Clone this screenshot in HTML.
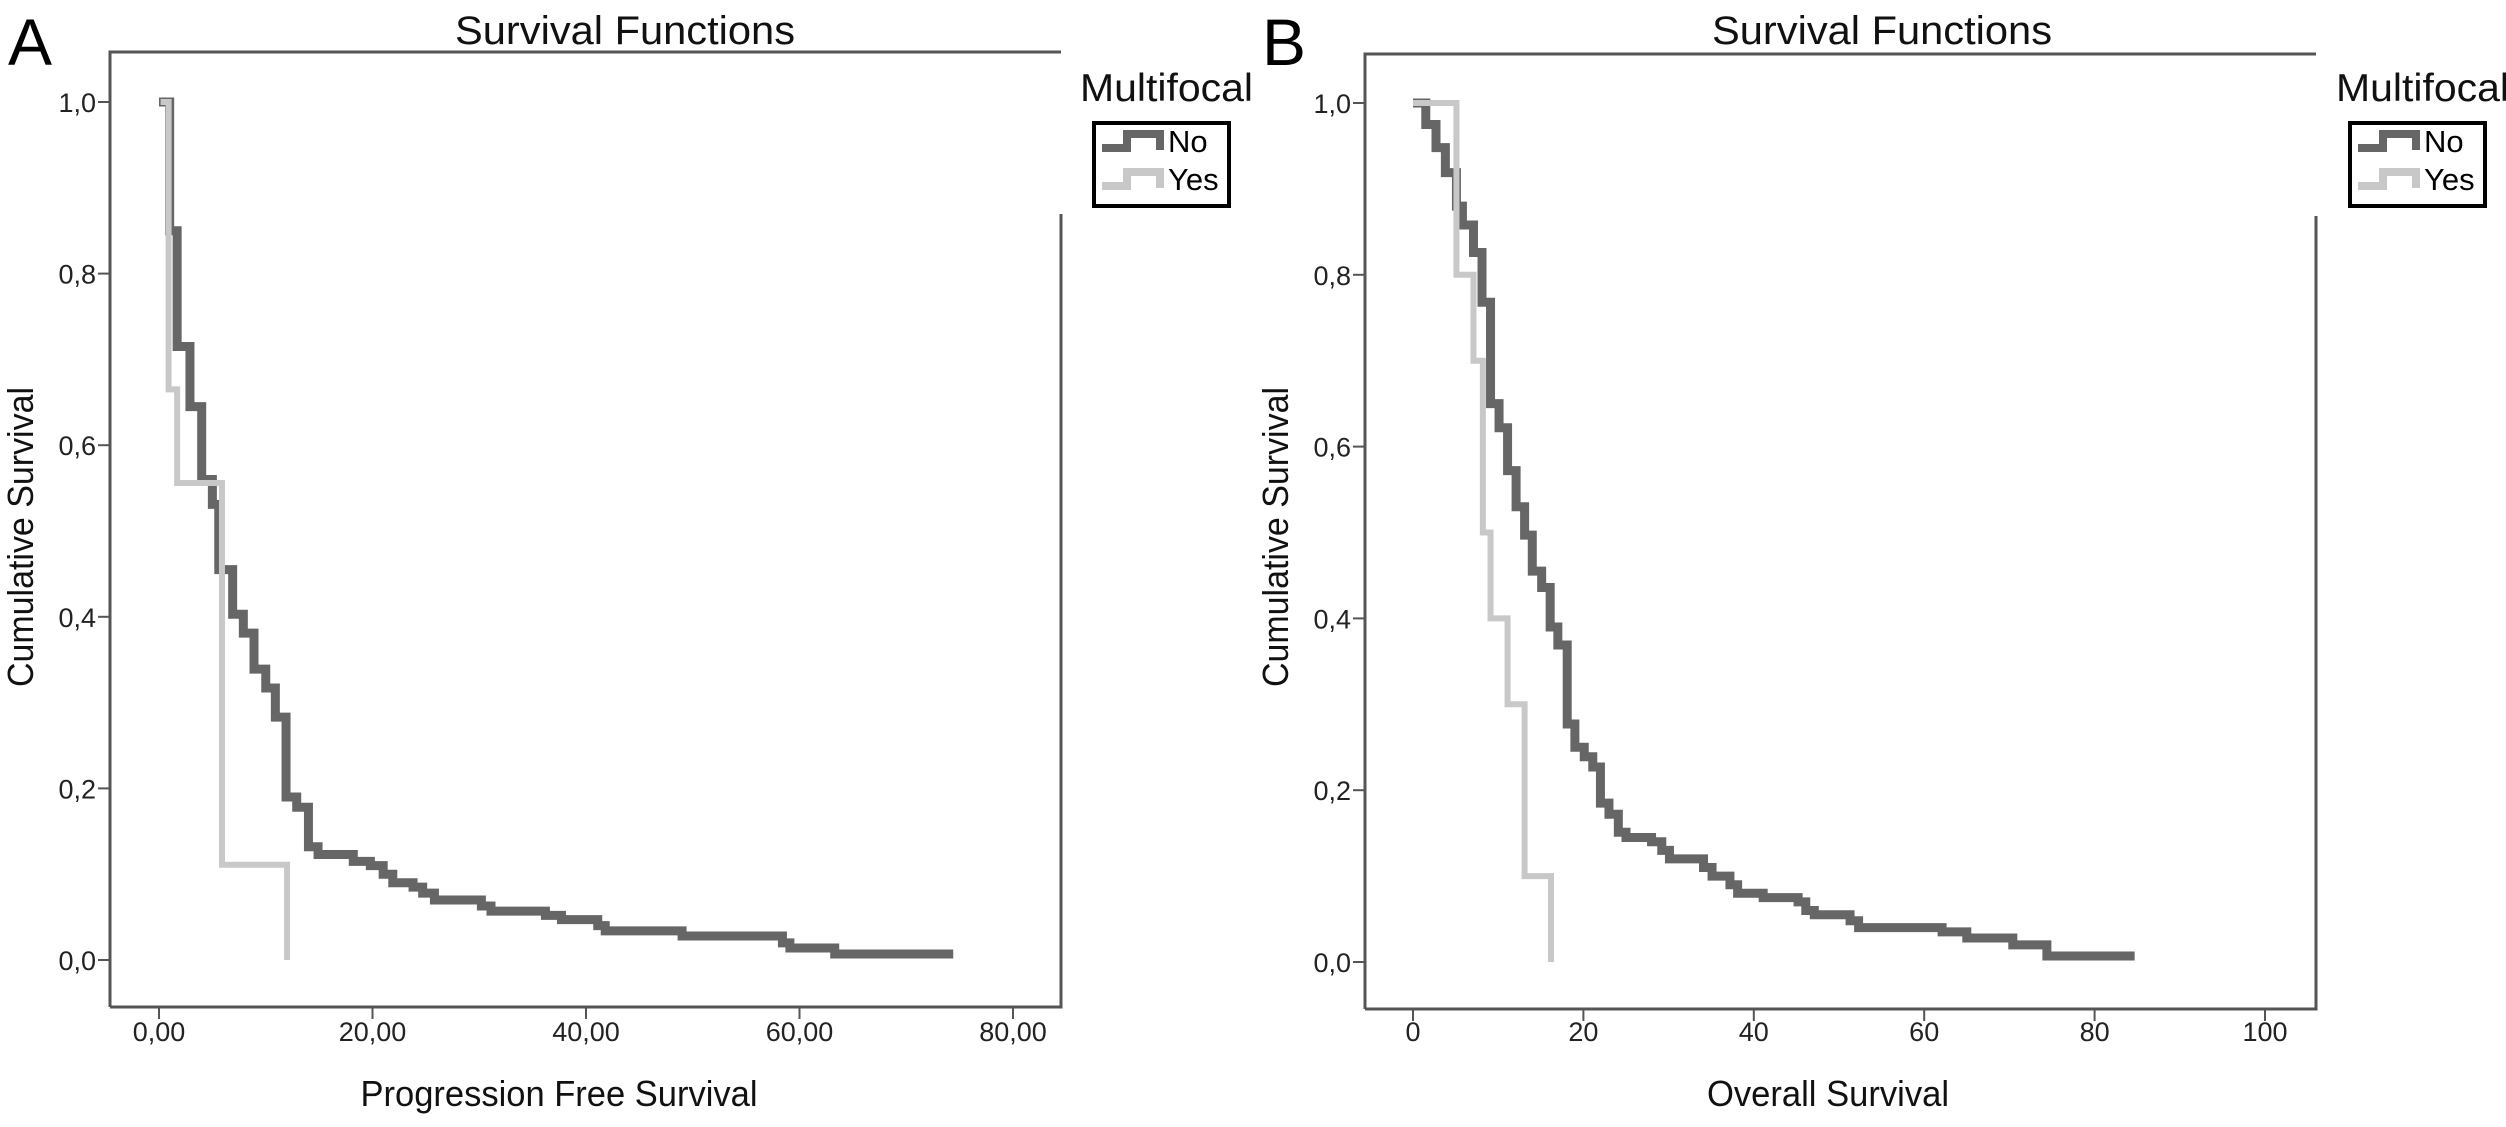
<!DOCTYPE html>
<html><head><meta charset="utf-8">
<style>
html,body{margin:0;padding:0;background:#fff;}
svg{display:block;font-family:"Liberation Sans",Arial,sans-serif;}
</style></head>
<body>
<svg id="fig" width="2506" height="1127" viewBox="0 0 2506 1127"></svg>
<script>
// Panel A: Progression Free Survival
const aNoT = [0,1,1.7,2.9,4.0,5.0,5.6,6.9,7.9,8.9,10.0,10.9,11.9,12.9,14.0,14.9,18.2,19.8,21,21.9,23.8,24.7,25.8,30.2,31.1,36.2,37.7,41.1,41.8,49,58.4,59.1,63.3,74.4];
const aNoV = [1,0.85,0.715,0.645,0.56,0.531,0.455,0.403,0.381,0.339,0.317,0.283,0.19,0.178,0.132,0.123,0.115,0.11,0.10,0.09,0.085,0.078,0.07,0.063,0.057,0.052,0.047,0.04,0.034,0.028,0.02,0.014,0.007,0.007];
const aYesT = [0.15,0.9,1.7,5.9,12.0];
const aYesV = [1,0.665,0.556,0.111,0];
const aXTicks = [0,20,40,60,80];
const aXLabels = ["0,00","20,00","40,00","60,00","80,00"];
// Panel B: Overall Survival
const bNoT = [0,1.5,2.7,3.8,5.1,5.8,7.1,8.1,9.1,10.1,11.1,12.1,13.1,14.0,15.1,16.1,17.0,18.1,19.0,20.1,21.1,22,23,24.1,25,28,29.2,30.1,34.1,35.1,37.2,38.1,41.1,45.2,46.1,47.1,51.3,52.3,62.1,65,70.4,74.4,84.7];
const bNoV = [1,0.975,0.948,0.919,0.88,0.858,0.826,0.768,0.65,0.622,0.572,0.53,0.497,0.455,0.436,0.39,0.369,0.277,0.25,0.239,0.227,0.185,0.172,0.151,0.145,0.14,0.13,0.12,0.11,0.10,0.09,0.08,0.075,0.07,0.06,0.055,0.048,0.04,0.035,0.028,0.02,0.007,0.007];
const bYesT = [0,5.1,7.1,8.2,9.1,11.1,13.1,16.2];
const bYesV = [1,0.8,0.7,0.5,0.4,0.3,0.1,0];
const bXTicks = [0,20,40,60,80,100];
const bXLabels = ["0","20","40","60","80","100"];
const yTicks = [0,0.2,0.4,0.6,0.8,1.0];
const yLabels = ["0,0","0,2","0,4","0,6","0,8","1,0"];

const NS="http://www.w3.org/2000/svg";
const svg=document.getElementById('fig');
function mk(tag,attrs,parent,txt){const e=document.createElementNS(NS,tag);for(const k in attrs)e.setAttribute(k,attrs[k]);if(txt!==undefined)e.textContent=txt;(parent||svg).appendChild(e);return e;}

function panel(p){
  const g=mk('g',{});
  
  
  const xs=t=>p.x0+(t-p.xmin)*(p.x1-p.x0)/(p.xmax-p.xmin);
  const ys=v=>p.y0+(p.y1-p.y0)*v;
  const L=mk('text',{x:p.letterX,y:65,'font-size':66,fill:'#000'},g,p.letter);
  
  
  const T=mk('text',{x:p.titleX,y:44,'font-size':40,'text-anchor':'middle',fill:'#111',textLength:340,lengthAdjust:'spacingAndGlyphs'},g,'Survival Functions');
  
  
  const fr=mk('path',{d:`M${p.bl},${p.bb} L${p.bl},${p.bt} L${p.br},${p.bt} M${p.br},${p.bt+162} L${p.br},${p.bb} L${p.bl},${p.bb}`,fill:'none',stroke:'#555','stroke-width':3},g);
  
  
  yTicks.forEach((v,i)=>{
    const y=ys(v);
    const tk=mk('line',{x1:p.bl-12,x2:p.bl,y1:y,y2:y,stroke:'#555','stroke-width':2},g);
    
    
    const lb=mk('text',{x:p.bl-14,y:y+10,'font-size':27,'text-anchor':'end',fill:'#222'},g,yLabels[i]);
    
    
  });
  p.xt.forEach((t,i)=>{
    const x=xs(t);
    const tk=mk('line',{x1:x,x2:x,y1:p.bb,y2:p.bb+12,stroke:'#555','stroke-width':2},g);
    
    
    const lb=mk('text',{x:x,y:1041,'font-size':27,'text-anchor':'middle',fill:'#222'},g,p.xl[i]);
    
    
  });
  const xt=mk('text',{x:p.xTitleX,y:1106,'font-size':36,'text-anchor':'middle',fill:'#111',textLength:p.xTitleLen,lengthAdjust:'spacingAndGlyphs'},g,p.xTitle);
  
  
  const yt=mk('text',{x:0,y:0,'font-size':36,'text-anchor':'middle',fill:'#111',textLength:300,lengthAdjust:'spacingAndGlyphs',transform:`translate(${p.yTitleX},537) rotate(-90)`},g,'Cumulative Survival');
  
  
  function step(T,V,color,w,name){
    let d=`M${xs(T[0])},${ys(V[0])}`;
    for(let i=1;i<T.length;i++){d+=` L${xs(T[i])},${ys(V[i-1])} L${xs(T[i])},${ys(V[i])}`;}
    const pth=mk('path',{d:d,fill:'none',stroke:color,'stroke-width':w,'stroke-linejoin':'miter'},g);
    
    
  }
  step(p.noT,p.noV,'#666',9,'survival-curve-no');
  step(p.yesT,p.yesV,'#c8c8c8',6,'survival-curve-yes');
  const lg=mk('g',{},g);
  
  
  const lx=p.legX;
  const lt=mk('text',{x:lx-14,y:101,'font-size':39,fill:'#111',textLength:173,lengthAdjust:'spacingAndGlyphs'},lg,'Multifocal');
  
  
  const bx=mk('rect',{x:lx,y:123,width:135,height:83,fill:'#fff',stroke:'#000','stroke-width':4},lg);
  
  
  [['No','#666',148,152,'legend-entry-no'],['Yes','#c8c8c8',186,190,'legend-entry-yes']].forEach(e=>{
    const s=mk('path',{d:`M${lx+8},${e[2]} L${lx+33},${e[2]} L${lx+33},${e[2]-14} L${lx+66},${e[2]-14} L${lx+66},${e[2]+2}`,fill:'none',stroke:e[1],'stroke-width':8},lg);
    
    
    const t=mk('text',{x:lx+74,y:e[3],'font-size':31,fill:'#000'},lg,e[0]);
    
    
  });
}

panel({id:'pfs',letter:'A',letterX:8,titleX:625,bl:110,br:1061,bt:52,bb:1007,
  x0:159,x1:1013,xmin:0,xmax:80,y0:960,y1:102,xt:aXTicks,xl:aXLabels,
  xTitle:'Progression Free Survival',xTitleX:559,xTitleLen:397,yTitleX:33,
  noT:aNoT,noV:aNoV,yesT:aYesT,yesV:aYesV,legX:1094});
panel({id:'os',letter:'B',letterX:1262,titleX:1882,bl:1365,br:2316,bt:54,bb:1009,
  x0:1413,x1:2265,xmin:0,xmax:100,y0:962,y1:103,xt:bXTicks,xl:bXLabels,
  xTitle:'Overall Survival',xTitleX:1828,xTitleLen:242,yTitleX:1288,
  noT:bNoT,noV:bNoV,yesT:bYesT,yesV:bYesV,legX:2350});
</script>
</body></html>
